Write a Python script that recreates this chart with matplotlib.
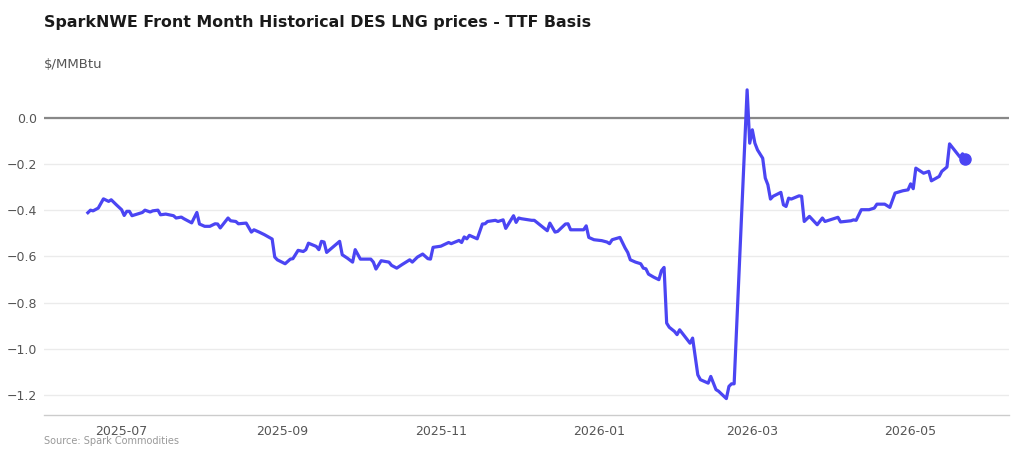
import matplotlib
matplotlib.use("Agg")
import matplotlib.pyplot as plt
import matplotlib.dates as mdates
import pandas as pd

dates = [
    "2025-06-18", "2025-06-19", "2025-06-20", "2025-06-22", "2025-06-24", "2025-06-26",
    "2025-06-27", "2025-06-29", "2025-07-01", "2025-07-02", "2025-07-03", "2025-07-04",
    "2025-07-05", "2025-07-07", "2025-07-09", "2025-07-10", "2025-07-12", "2025-07-13",
    "2025-07-15", "2025-07-16", "2025-07-18", "2025-07-21", "2025-07-22", "2025-07-24",
    "2025-07-25", "2025-07-28", "2025-07-30", "2025-07-31", "2025-08-02", "2025-08-04",
    "2025-08-06", "2025-08-07", "2025-08-08", "2025-08-11", "2025-08-12", "2025-08-14",
    "2025-08-15", "2025-08-18", "2025-08-20", "2025-08-21", "2025-08-23", "2025-08-25",
    "2025-08-28", "2025-08-29", "2025-08-30", "2025-09-02", "2025-09-04", "2025-09-05",
    "2025-09-07", "2025-09-09", "2025-09-10", "2025-09-11", "2025-09-14", "2025-09-15",
    "2025-09-16", "2025-09-17", "2025-09-18", "2025-09-20", "2025-09-23", "2025-09-24",
    "2025-09-26", "2025-09-28", "2025-09-29", "2025-10-01", "2025-10-05", "2025-10-06",
    "2025-10-07", "2025-10-09", "2025-10-12", "2025-10-13", "2025-10-15", "2025-10-17",
    "2025-10-20", "2025-10-21", "2025-10-23", "2025-10-25", "2025-10-27", "2025-10-28",
    "2025-10-29", "2025-11-01", "2025-11-04", "2025-11-05", "2025-11-08", "2025-11-09",
    "2025-11-10", "2025-11-11", "2025-11-12", "2025-11-15", "2025-11-17", "2025-11-18",
    "2025-11-19", "2025-11-22", "2025-11-23", "2025-11-25", "2025-11-26", "2025-11-29",
    "2025-11-30", "2025-12-01", "2025-12-02", "2025-12-06", "2025-12-07", "2025-12-12",
    "2025-12-13", "2025-12-15", "2025-12-16", "2025-12-19", "2025-12-20", "2025-12-21",
    "2025-12-26", "2025-12-27", "2025-12-28", "2025-12-30", "2026-01-02", "2026-01-04",
    "2026-01-05", "2026-01-06", "2026-01-09", "2026-01-11", "2026-01-12", "2026-01-13",
    "2026-01-15", "2026-01-17", "2026-01-18", "2026-01-19", "2026-01-20", "2026-01-22",
    "2026-01-24", "2026-01-25", "2026-01-26", "2026-01-27", "2026-01-28", "2026-01-30",
    "2026-01-31", "2026-02-01", "2026-02-03", "2026-02-05", "2026-02-06", "2026-02-08",
    "2026-02-09", "2026-02-12", "2026-02-13", "2026-02-15", "2026-02-16", "2026-02-19",
    "2026-02-20", "2026-02-21", "2026-02-22", "2026-02-27", "2026-02-28", "2026-03-01",
    "2026-03-02", "2026-03-03", "2026-03-05", "2026-03-06", "2026-03-07", "2026-03-08",
    "2026-03-09", "2026-03-12", "2026-03-13", "2026-03-14", "2026-03-15", "2026-03-16",
    "2026-03-19", "2026-03-20", "2026-03-21", "2026-03-23", "2026-03-26", "2026-03-28",
    "2026-03-29", "2026-03-31", "2026-04-03", "2026-04-04", "2026-04-08", "2026-04-09",
    "2026-04-10", "2026-04-12", "2026-04-15", "2026-04-17", "2026-04-18", "2026-04-21",
    "2026-04-23", "2026-04-25", "2026-04-28", "2026-04-30", "2026-05-01", "2026-05-02",
    "2026-05-03", "2026-05-06", "2026-05-08", "2026-05-09", "2026-05-12", "2026-05-13",
    "2026-05-15", "2026-05-16", "2026-05-20", "2026-05-21", "2026-05-22",
]

prices = [
    -0.411, -0.400, -0.403, -0.391, -0.351, -0.362,
    -0.355, -0.377, -0.398, -0.423, -0.405, -0.405,
    -0.424, -0.417, -0.410, -0.400, -0.408, -0.403,
    -0.400, -0.420, -0.417, -0.424, -0.434, -0.430,
    -0.437, -0.455, -0.410, -0.460, -0.470, -0.470,
    -0.459, -0.460, -0.477, -0.434, -0.446, -0.449,
    -0.459, -0.456, -0.495, -0.485, -0.495, -0.506,
    -0.525, -0.603, -0.615, -0.632, -0.612, -0.610,
    -0.574, -0.579, -0.571, -0.543, -0.557, -0.571,
    -0.535, -0.538, -0.583, -0.564, -0.535, -0.593,
    -0.608, -0.625, -0.571, -0.612, -0.612, -0.625,
    -0.655, -0.619, -0.625, -0.639, -0.651, -0.636,
    -0.615, -0.625, -0.603, -0.590, -0.610, -0.612,
    -0.561, -0.556, -0.540, -0.545, -0.531, -0.540,
    -0.516, -0.524, -0.509, -0.524, -0.460, -0.459,
    -0.449, -0.444, -0.449, -0.442, -0.479, -0.424,
    -0.453, -0.434, -0.437, -0.444, -0.444, -0.489,
    -0.456, -0.495, -0.492, -0.460, -0.459, -0.485,
    -0.485, -0.468, -0.518, -0.528, -0.532, -0.538,
    -0.545, -0.528, -0.518, -0.564, -0.583, -0.615,
    -0.625, -0.632, -0.651, -0.654, -0.677, -0.690,
    -0.701, -0.662, -0.648, -0.889, -0.907, -0.925,
    -0.939, -0.918, -0.947, -0.976, -0.954, -1.113,
    -1.134, -1.149, -1.120, -1.177, -1.184, -1.216,
    -1.163, -1.152, -1.152, 0.121, -0.110, -0.052,
    -0.110, -0.139, -0.175, -0.261, -0.290, -0.352,
    -0.340, -0.323, -0.377, -0.384, -0.348, -0.352,
    -0.338, -0.340, -0.449, -0.427, -0.463, -0.434,
    -0.449, -0.442, -0.431, -0.451, -0.446, -0.442,
    -0.444, -0.398, -0.398, -0.391, -0.374, -0.374,
    -0.388, -0.326, -0.316, -0.312, -0.286, -0.307,
    -0.218, -0.240, -0.232, -0.273, -0.254, -0.232,
    -0.213, -0.113, -0.170, -0.156, -0.179,
]

y_ticks = [0.0, -0.2, -0.4, -0.6, -0.8, -1.0, -1.2]
x_ticks = ["2025-07-01", "2025-09-01", "2025-11-01", "2026-01-01", "2026-03-01", "2026-05-01"]

title = "SparkNWE Front Month Historical DES LNG prices - TTF Basis"
unit_label = "$/MMBtu"
source = "Source: Spark Commodities"

LINE = "#4b45f3"

x = pd.to_datetime(dates)

fig = plt.figure(figsize=(10.24, 4.61), dpi=100)
ax = fig.add_axes([44 / 1024, 1 - 415 / 461, (1009 - 44) / 1024, (415 - 85) / 461])

ax.plot(x, prices, color=LINE, lw=2.3, solid_joinstyle="round", zorder=3)
ax.plot(x[-1:], prices[-1:], "o", color=LINE, ms=8, zorder=4)
ax.axhline(0, color="#888888", lw=1.6, zorder=2)

ax.set_ylim(-1.287, 0.142)
ax.margins(x=0.05)
ax.set_yticks(y_ticks)
ax.set_yticklabels([f"{v:.1f}".replace("-", "\u2212") for v in y_ticks])
ax.set_xticks(pd.to_datetime(x_ticks))
ax.xaxis.set_major_formatter(mdates.DateFormatter("%Y-%m"))

ax.grid(axis="y", color="#ebebeb", lw=1, zorder=0)
ax.grid(axis="x", visible=False)
for s in ["top", "right", "left"]:
    ax.spines[s].set_visible(False)
ax.spines["bottom"].set_color("#cccccc")
ax.spines["bottom"].set_linewidth(1.0)
ax.tick_params(axis="both", length=0, labelsize=9, labelcolor="#555555")
ax.tick_params(axis="y", pad=5)
ax.tick_params(axis="x", pad=7)

fig.text(44 / 1024, 1 - 22 / 461, title, fontsize=11.4, fontweight="bold",
         color="#1a1a1a", va="center", ha="left")
fig.text(44 / 1024, 1 - 65 / 461, unit_label, fontsize=9.5, color="#555555",
         va="center", ha="left")
fig.text(44 / 1024, 1 - 441 / 461, source, fontsize=7, color="#999999",
         va="center", ha="left")

fig.savefig("out.png", dpi=100)
